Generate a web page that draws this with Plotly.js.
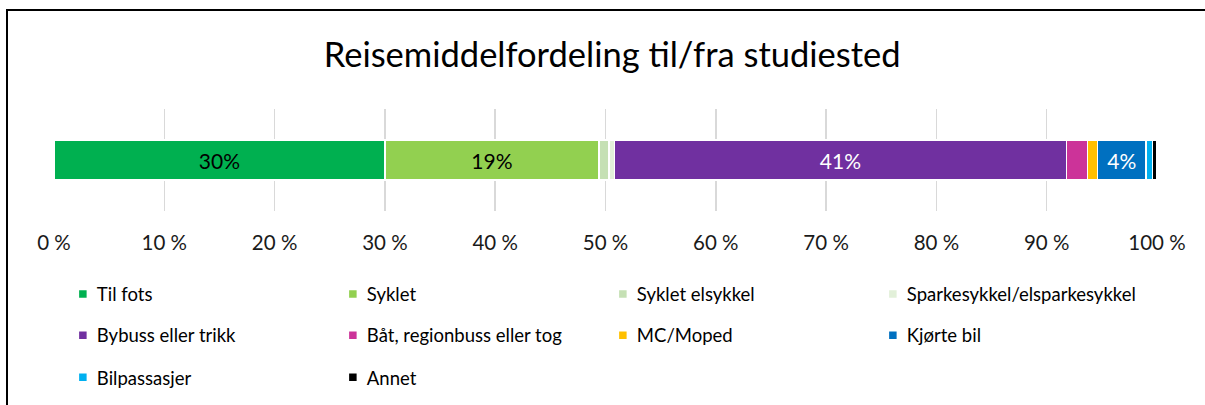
<!DOCTYPE html>
<html>
<head>
<meta charset="utf-8">
<script src="https://cdn.plot.ly/plotly-3.0.1.min.js"></script>
<style>
  html, body { margin: 0; padding: 0; background: #fff; }
  #chart { width: 1205px; height: 405px; position: absolute; left: 0; top: 0; }
  #frame { position: absolute; left: 6px; top: 9px; width: 1199px; height: 396px;
           border-top: 2px solid #000; border-left: 2px solid #000; pointer-events: none; box-sizing: border-box; }
</style>
</head>
<body>
<div id="chart"></div>
<div id="frame"></div>
<script>
const categories = ['Til fots', 'Syklet', 'Syklet elsykkel', 'Sparkesykkel/elsparkesykkel',
                    'Bybuss eller trikk', 'Båt, regionbuss eller tog', 'MC/Moped', 'Kjørte bil',
                    'Bilpassasjer', 'Annet'];
const values = [30.0, 19.4, 0.9, 0.5, 41.0, 1.9, 0.9, 4.4, 0.6, 0.4];
const colors = ['#00B050', '#92D050', '#C5E0B4', '#E2F0D9', '#7030A0', '#CC3399',
                '#FFC000', '#0070C0', '#00B0F0', '#000000'];
const showLabel = [true, true, false, false, true, false, false, true, false, false];
const labelColors = ['#000000', '#000000', '#000000', '#000000', '#FFFFFF', '#FFFFFF',
                     '#000000', '#FFFFFF', '#000000', '#FFFFFF'];
const legendRow = ['legend', 'legend', 'legend', 'legend', 'legend2', 'legend2', 'legend2', 'legend2',
                   'legend3', 'legend3'];
const tickVals = [0, 10, 20, 30, 40, 50, 60, 70, 80, 90, 100];
const tickText = ['0 %', '10 %', '20 %', '30 %', '40 %', '50 %', '60 %', '70 %', '80 %', '90 %', '100 %'];
const titleText = 'Reisemiddelfordeling til/fra studiested';

const FONT = 'Lato, "Open Sans", sans-serif';

const traces = categories.map((name, i) => ({
  type: 'bar',
  orientation: 'h',
  name: name,
  y: [0],
  x: [values[i]],
  marker: { color: colors[i], line: { color: '#FFFFFF', width: 1.5 } },
  text: [showLabel[i] ? Math.round(values[i]) + '%' : ''],
  textposition: 'inside',
  insidetextanchor: 'middle',
  textangle: 0,
  constraintext: 'none',
  textfont: { family: FONT, size: 21, color: labelColors[i] },
  hoverinfo: 'skip',
  legend: legendRow[i]
}));

const legendBase = {
  orientation: 'h',
  entrywidth: 225,
  entrywidthmode: 'pixels',
  traceorder: 'normal',
  xanchor: 'left',
  yanchor: 'middle',
  x: 0.0026,
  bgcolor: 'rgba(0,0,0,0)',
  font: { family: FONT, size: 18.5, color: '#000000' }
};

const layout = {
  width: 1205,
  height: 405,
  margin: { l: 54, r: 48, t: 109, b: 193 },
  paper_bgcolor: '#FFFFFF',
  plot_bgcolor: '#FFFFFF',
  font: { family: FONT, color: '#000000' },
  title: {
    text: titleText,
    xref: 'container', yref: 'container',
    x: 0.508, xanchor: 'center',
    y: 0.864, yanchor: 'middle',
    font: { family: FONT, size: 34.5, color: '#000000' }
  },
  barmode: 'stack',
  bargap: 0.61,
  xaxis: {
    range: [0, 100],
    tickvals: tickVals,
    ticktext: tickText,
    showgrid: true,
    gridcolor: '#D9D9D9',
    gridwidth: 1.5,
    zeroline: false,
    showline: false,
    ticks: '',
    ticklabelstandoff: 17,
    tickfont: { family: FONT, size: 20.5, color: '#1a1a1a' },
    fixedrange: true
  },
  yaxis: {
    visible: false,
    range: [-0.5, 0.5],
    fixedrange: true
  },
  showlegend: true,
  legend: Object.assign({}, legendBase, { y: -0.8 }),
  legend2: Object.assign({}, legendBase, { y: -1.2 }),
  legend3: Object.assign({}, legendBase, { y: -1.61 })
};

Plotly.newPlot('chart', traces, layout, { displayModeBar: false, staticPlot: true }).then(function (gd) {
  // smaller square legend keys, set closer to their labels as in the reference
  gd.querySelectorAll('.legendpoints path').forEach(function (p) {
    p.setAttribute('d', 'M10.5,4.5H1.5V-4.5H10.5Z');
  });
});
</script>
</body>
</html>
